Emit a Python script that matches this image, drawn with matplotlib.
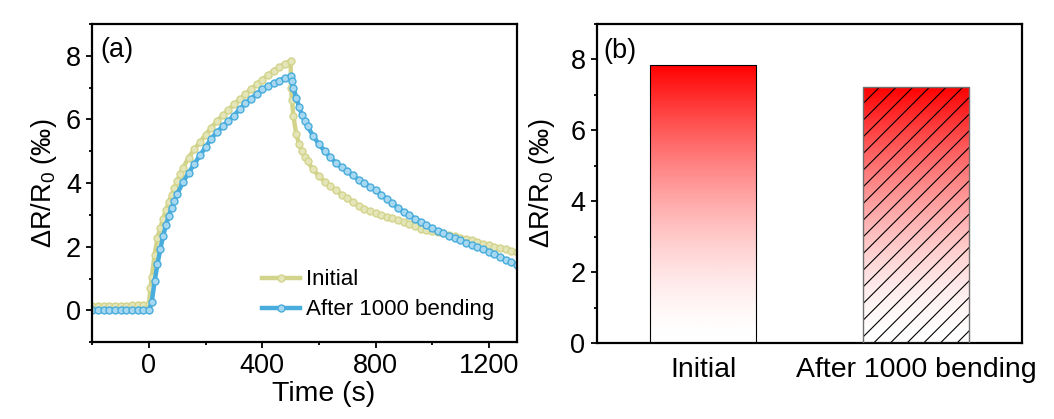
import numpy as np
import matplotlib
matplotlib.use('Agg')
import matplotlib.pyplot as plt
from matplotlib.ticker import MultipleLocator
from matplotlib.colors import LinearSegmentedColormap

plt.rcParams['font.family'] = ['Liberation Sans', 'DejaVu Sans']
plt.rcParams['mathtext.default'] = 'regular'
plt.rcParams['hatch.linewidth'] = 0.8

# (a) response curves
t_initial = [-200, -180, -160, -140, -120, -100, -80, -60, -40, -20, 0,
             5, 10, 20, 30, 40, 50, 60, 70, 80, 90, 100, 110, 120, 140, 160, 180,
             200, 220, 240, 260, 280, 300, 320, 340, 360, 380, 400, 420, 440, 460,
             480, 500, 502, 505, 510, 520, 530, 540, 550, 560, 580, 600, 620, 640,
             660, 680, 700, 720, 740, 760, 780, 800, 820, 840, 860, 880, 900, 920,
             940, 960, 980, 1000, 1020, 1040, 1060, 1080, 1100, 1120, 1140, 1160,
             1180, 1200, 1220, 1240, 1260, 1280, 1300]
r_initial = [0.13, 0.13, 0.14, 0.14, 0.14, 0.15, 0.15, 0.16, 0.17, 0.18, 0.20,
             0.70, 1.05, 1.75, 2.27, 2.60, 2.88, 3.15, 3.40, 3.63, 3.85, 4.07, 4.29,
             4.47, 4.80, 5.06, 5.29, 5.52, 5.74, 5.94, 6.13, 6.30, 6.47, 6.63, 6.79,
             6.95, 7.10, 7.25, 7.40, 7.53, 7.65, 7.75, 7.84, 7.00, 6.60, 6.10, 5.55,
             5.22, 5.00, 4.82, 4.68, 4.43, 4.22, 4.05, 3.90, 3.77, 3.64, 3.52, 3.40,
             3.29, 3.20, 3.12, 3.05, 3.00, 2.95, 2.90, 2.85, 2.79, 2.72, 2.64, 2.57,
             2.52, 2.49, 2.45, 2.42, 2.38, 2.33, 2.29, 2.25, 2.20, 2.15, 2.10, 2.05,
             2.00, 1.96, 1.92, 1.88, 1.84]

t_after = [-200, -180, -160, -140, -120, -100, -80, -60, -40, -20, 0,
           10, 20, 30, 40, 50, 60, 70, 80, 90, 100, 120, 140, 160, 180, 200, 220,
           240, 260, 280, 300, 320, 340, 360, 380, 400, 420, 440, 460, 480, 500,
           505, 510, 520, 530, 540, 550, 560, 580, 600, 620, 640, 660, 680, 700,
           720, 740, 760, 780, 800, 820, 840, 860, 880, 900, 920, 940, 960, 980,
           1000, 1020, 1040, 1060, 1080, 1100, 1120, 1140, 1160, 1180, 1200, 1220,
           1240, 1260, 1280, 1300]
r_after = [0.0, 0.0, 0.0, 0.0, 0.0, 0.0, 0.0, 0.0, 0.0, 0.0, 0.0,
           0.28, 0.92, 1.45, 1.92, 2.34, 2.68, 2.97, 3.23, 3.45, 3.66, 4.03, 4.32,
           4.60, 4.87, 5.13, 5.40, 5.60, 5.78, 5.95, 6.12, 6.32, 6.50, 6.65, 6.80,
           6.95, 7.05, 7.14, 7.22, 7.30, 7.37, 7.20, 7.00, 6.68, 6.40, 6.15, 5.95,
           5.78, 5.48, 5.22, 5.01, 4.81, 4.64, 4.50, 4.37, 4.24, 4.11, 4.00, 3.89,
           3.78, 3.64, 3.50, 3.36, 3.22, 3.10, 2.99, 2.88, 2.78, 2.68, 2.59, 2.50,
           2.42, 2.34, 2.27, 2.20, 2.13, 2.06, 2.00, 1.93, 1.85, 1.77, 1.68, 1.60,
           1.51, 1.42]

# (b) peak response
bar_labels = ['Initial', 'After 1000 bending']
bar_values = [7.84, 7.23]

khaki = '#d3d48c'
blue = '#48acdc'
FS = 19.5

fig = plt.figure(figsize=(10.54, 4.19), dpi=100)
ax1 = fig.add_axes([0.0876, 0.183, 0.403, 0.760])
ax2 = fig.add_axes([0.566, 0.181, 0.404, 0.762])

# ---- panel (a)
ax1.plot(t_initial, r_initial, color=khaki, lw=3.2, marker='o', ms=5,
         mfc='#e4e5b8', mec=khaki, mew=1.0, label='Initial')
ax1.plot(t_after, r_after, color=blue, lw=3.2, marker='o', ms=5,
         mfc='#a8d8f0', mec=blue, mew=1.0, label='After 1000 bending')
ax1.set_xlim(-200, 1300)
ax1.set_ylim(-1, 9)
ax1.xaxis.set_major_locator(MultipleLocator(400))
ax1.xaxis.set_minor_locator(MultipleLocator(200))
ax1.yaxis.set_major_locator(MultipleLocator(2))
ax1.yaxis.set_minor_locator(MultipleLocator(1))
ax1.set_xlabel('Time (s)', fontsize=20.5)
ax1.xaxis.set_label_coords(0.545, -0.122)
ax1.set_ylabel('ΔR/R$_0$ (‰)', fontsize=FS)
ax1.yaxis.set_label_coords(-0.078, 0.5)
ax1.text(0.02, 0.96, '(a)', transform=ax1.transAxes, fontsize=FS, va='top', ha='left')
ax1.legend(loc='center left', bbox_to_anchor=(0.40, 0.149), frameon=False,
           fontsize=16, handlelength=1.7, handletextpad=0.25, labelspacing=0.4,
           borderpad=0, borderaxespad=0)

# ---- panel (b)
cmap = LinearSegmentedColormap.from_list('wr', ['#ffffff', '#ff0000'])
grad = (np.linspace(0, 1, 256) ** 1.6).reshape(-1, 1)
x = np.arange(len(bar_values))
bars = ax2.bar(x, bar_values, width=0.5, facecolor='none', edgecolor='none', zorder=1)
for b in bars:
    x0, w, h = b.get_x(), b.get_width(), b.get_height()
    im = ax2.imshow(grad, extent=(x0, x0 + w, 0, h), origin='lower', cmap=cmap,
                    vmin=0, vmax=1, aspect='auto', zorder=1)
    im.set_clip_path(b)
ax2.bar(x[1], bar_values[1], width=0.5, facecolor='none', edgecolor='black',
        hatch='//', linewidth=0, zorder=2)
ax2.bar(x[0], bar_values[0], width=0.5, facecolor='none', edgecolor='black',
        linewidth=0.8, zorder=3)
ax2.bar(x[1], bar_values[1], width=0.5, facecolor='none', edgecolor='#707070',
        linewidth=1.0, zorder=3)
ax2.set_xlim(-0.5, 1.5)
ax2.set_ylim(0, 9)
ax2.set_xticks(x)
ax2.set_xticklabels(bar_labels)
ax2.yaxis.set_major_locator(MultipleLocator(2))
ax2.yaxis.set_minor_locator(MultipleLocator(1))
ax2.set_ylabel('ΔR/R$_0$ (‰)', fontsize=FS)
ax2.yaxis.set_label_coords(-0.094, 0.5)
ax2.text(0.016, 0.955, '(b)', transform=ax2.transAxes, fontsize=FS, va='top', ha='left')

for ax in (ax1, ax2):
    for s in ax.spines.values():
        s.set_linewidth(1.6)
    ax.tick_params(which='both', direction='out', width=1.3, labelsize=FS, top=False, right=False)
    ax.tick_params(which='major', length=4)
    ax.tick_params(which='minor', length=2.5)
    ax.tick_params(axis='y', pad=4)
ax2.tick_params(axis='x', which='both', length=0, pad=10, labelsize=20.5)

fig.savefig('out.png', dpi=100, facecolor='white')
